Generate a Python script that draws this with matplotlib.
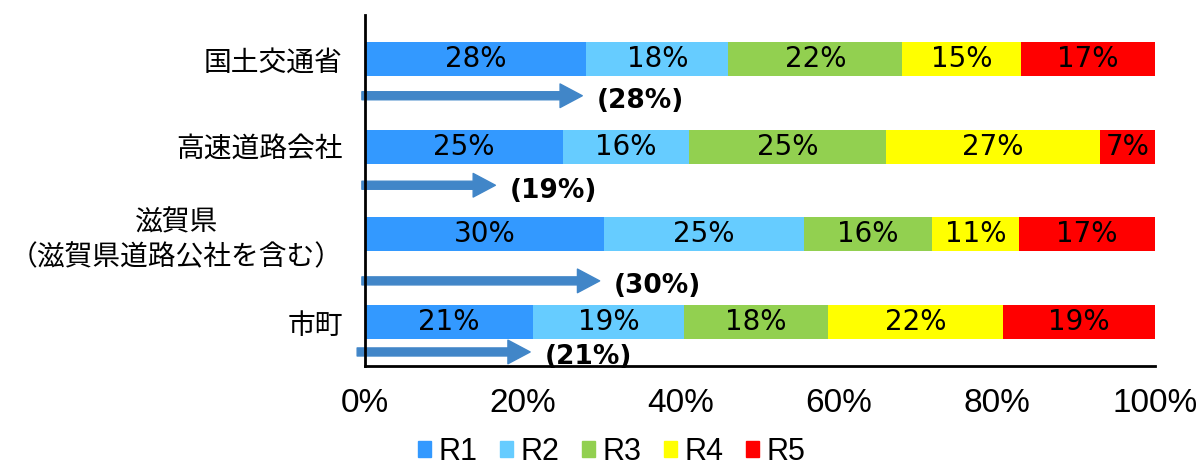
import matplotlib
matplotlib.use("Agg")
import matplotlib.pyplot as plt
from matplotlib.patches import Patch
import numpy as np

plt.rcParams['font.family'] = ['Noto Sans CJK JP', 'DejaVu Sans']

categories = ["国土交通省", "高速道路会社", "滋賀県\n（滋賀県道路公社を含む）", "市町"]
series_names = ["R1", "R2", "R3", "R4", "R5"]
R1 = [28, 25, 30, 21]
R2 = [18, 16, 25, 19]
R3 = [22, 25, 16, 18]
R4 = [15, 27, 11, 22]
R5 = [17, 7, 17, 19]
series = [R1, R2, R3, R4, R5]
colors = ["#3399FF", "#66CCFF", "#92D050", "#FFFF00", "#FF0000"]
arrow_lengths = [27.5, 16.5, 29.7, 20.9]
arrow_labels = ["(28%)", "(19%)", "(30%)", "(21%)"]
arrow_offsets = [0.42, 0.44, 0.53, 0.34]
arrow_starts = [-0.4, -0.4, -0.4, -1.0]

fig = plt.figure(figsize=(12.04, 4.65), dpi=100)
ax = fig.add_axes([0.3032, 0.2129, 0.6561, 0.7548])

y = np.arange(len(categories))
totals = np.sum(np.array(series, dtype=float), axis=0)
left = np.zeros(len(categories))
for vals, col, name in zip(series, colors, series_names):
    raw = np.array(vals, dtype=float)
    widths = raw / totals * 100
    ax.barh(y, widths, left=left, height=0.39, color=col, label=name, zorder=2)
    for yi, (l, w, v) in enumerate(zip(left, widths, raw)):
        ax.text(l + w / 2, yi, f"{int(v)}%", ha='center', va='center',
                fontsize=20, family=['DejaVu Sans'], zorder=3)
    left += widths

for yi, (v, lab, off, st) in enumerate(zip(arrow_lengths, arrow_labels, arrow_offsets, arrow_starts)):
    ya = yi + off
    ax.annotate("", xy=(v, ya), xytext=(st, ya),
                arrowprops=dict(arrowstyle="simple,head_length=1.6,head_width=1.7,tail_width=0.58",
                                color="#4186C8", shrinkA=0, shrinkB=0),
                annotation_clip=False, zorder=4)
    ax.text(v + 1.8, ya + 0.06, lab, ha='left', va='center', fontsize=19,
            fontweight='semibold', family=['DejaVu Sans'], zorder=4)

ax.set_xlim(0, 100)
ax.set_ylim(3.5, -0.5)
ax.set_yticks(y)
ax.set_yticklabels(categories, fontsize=20)
for t in ax.get_yticklabels():
    t.set_multialignment('center')
ax.set_xticks([0, 20, 40, 60, 80, 100])
ax.set_xticklabels([f"{v}%" for v in [0, 20, 40, 60, 80, 100]], fontsize=24,
                   family=['Liberation Sans', 'DejaVu Sans'])
ax.tick_params(axis='both', length=0)
ax.tick_params(axis='y', pad=16)
ax.tick_params(axis='x', pad=16)
for s in ['top', 'right']:
    ax.spines[s].set_visible(False)
ax.spines['left'].set_linewidth(2)
ax.spines['bottom'].set_linewidth(2)
ax.spines['left'].set_zorder(5)

handles = [Patch(color=c, label=n) for c, n in zip(colors, series_names)]
fig.legend(handles=handles, loc='center', bbox_to_anchor=(0.508, 0.028), ncol=5,
           frameon=False, handlelength=0.43, handleheight=0.43, handletextpad=0.23,
           columnspacing=0.75, borderpad=0,
           prop={'family': ['Liberation Sans', 'DejaVu Sans'], 'size': 22})

fig.savefig("out.png", dpi=100)
